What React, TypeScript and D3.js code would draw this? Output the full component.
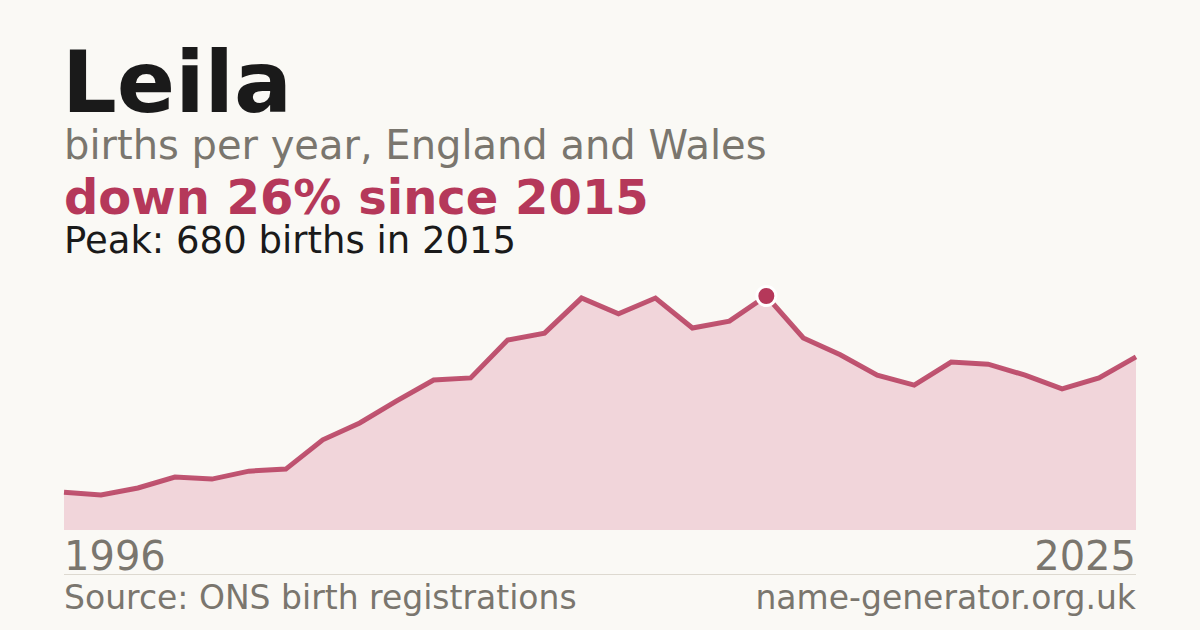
import * as d3 from "d3";

const years = d3.range(1996, 2026);
const births = [
  110, 102, 122, 154, 148, 171, 177, 262, 311, 375,
  436, 442, 552, 572, 674, 628, 674, 587, 607, 680,
  558, 509, 450, 421, 488, 482, 450, 410, 442, 503,
];
const title = "Leila";
const subtitle = "births per year, England and Wales";
const headline = "down 26% since 2015";
const peakNote = "Peak: 680 births in 2015";
const source = "Source: ONS birth registrations";
const site = "name-generator.org.uk";

const W = 1200;
const H = 630;
const left = 64;
const right = 1136;
const font = "'DejaVu Sans', sans-serif";
const red = "#b5385a";
const grey = "#7a766e";

export default function App() {
  const x = d3.scaleLinear().domain([years[0], years[years.length - 1]]).range([left, right]);
  const y = d3.scaleLinear().domain([0, 680]).range([530, 296]);
  const pts = years.map((yr, i) => [yr, births[i]] as [number, number]);
  const area = d3.area<[number, number]>().x((d) => x(d[0])).y0(y(0)).y1((d) => y(d[1]))(pts)!;
  const line = d3.line<[number, number]>().x((d) => x(d[0])).y((d) => y(d[1]))(pts)!;
  const peakIdx = d3.maxIndex(births);

  return (
    <svg width={W} height={H} style={{ position: "fixed", left: 0, top: 0 }}>
      <rect width={W} height={H} fill="#faf9f5" />
      <text x={left - 2} y={112} fontFamily={font} fontWeight="bold" fontSize={86} fill="#1a1a1a">{title}</text>
      <text x={left} y={159} fontFamily={font} fontSize={40} fill={grey}>{subtitle}</text>
      <text x={left} y={214} fontFamily={font} fontWeight="bold" fontSize={48} fill={red}>{headline}</text>
      <text x={left} y={253} fontFamily={font} fontSize={37} fill="#1a1a1a">{peakNote}</text>

      <path d={area} fill="#f1d5da" />
      <path d={line} fill="none" stroke={red} strokeOpacity={0.85} strokeWidth={5} strokeLinejoin="miter" />
      <circle cx={x(years[peakIdx])} cy={y(births[peakIdx])} r={9.5} fill={red} stroke="#ffffff" strokeWidth={3} />

      <text x={left} y={570} fontFamily={font} fontSize={40} fill={grey}>{years[0]}</text>
      <text x={right} y={570} textAnchor="end" fontFamily={font} fontSize={40} fill={grey}>{years[years.length - 1]}</text>
      <line x1={left} x2={right} y1={574.5} y2={574.5} stroke="#ddd9d0" strokeWidth={1} />
      <text x={left} y={609} fontFamily={font} fontSize={33} fill={grey}>{source}</text>
      <text x={right} y={609} textAnchor="end" fontFamily={font} fontSize={33} fill={grey}>{site}</text>
    </svg>
  );
}
